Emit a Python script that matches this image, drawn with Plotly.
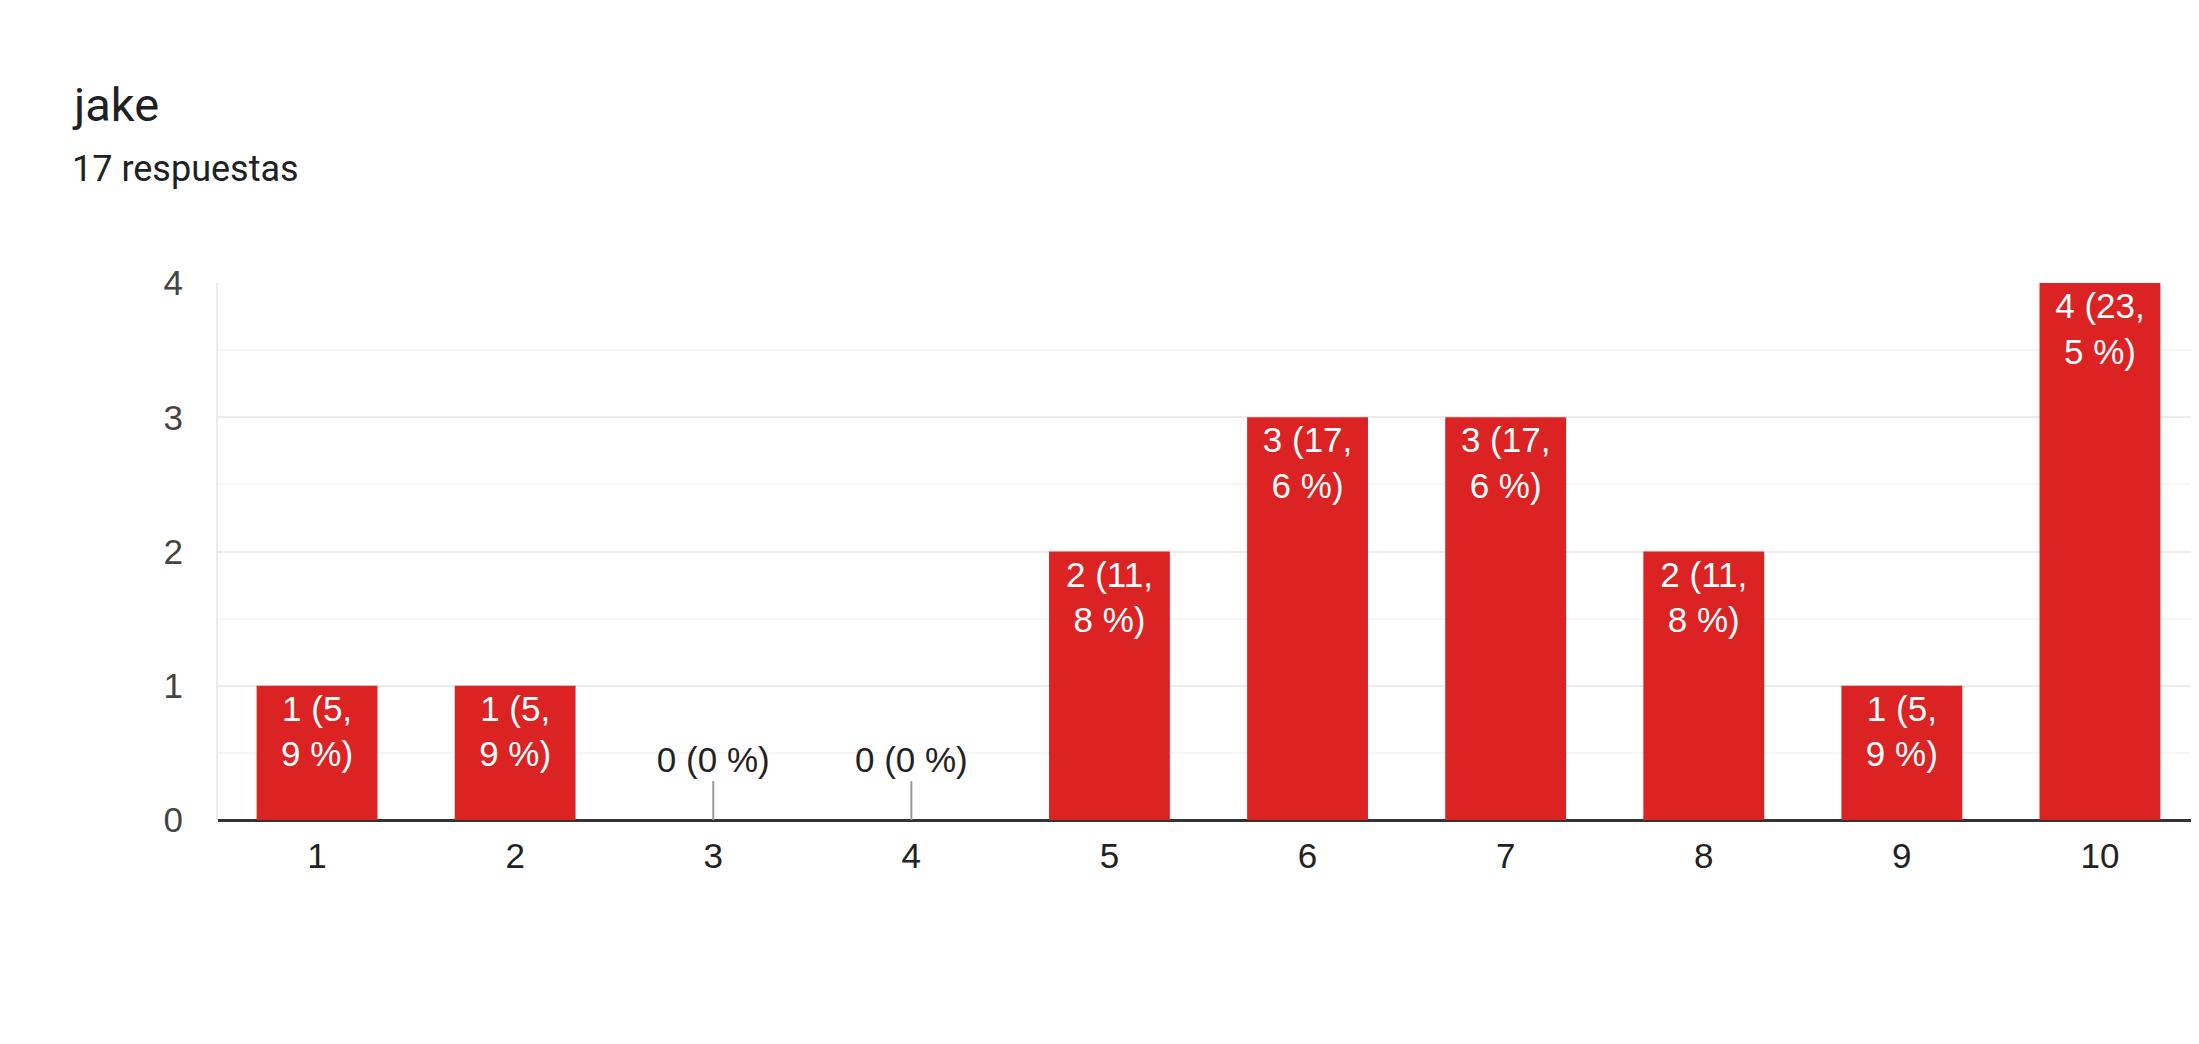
import plotly.graph_objects as go

# survey answers (scale 1-10) and how many picked each
categories = [1, 2, 3, 4, 5, 6, 7, 8, 9, 10]
counts = [1, 1, 0, 0, 2, 3, 3, 2, 1, 4]
total = 17
y_ticks = [0, 1, 2, 3, 4]

title = "jake"
subtitle = f"{total} respuestas"

red = "#db2323"
stem_h = 0.29
fs = 35


def label(v, wrap):
    pct = round(v / total * 100, 1)
    pct_s = f"{pct:g}".replace(".", ",")
    if wrap and "," in pct_s:
        a, b = pct_s.split(",")
        return f"{v} ({a},<br>{b} %)"
    return f"{v} ({pct_s} %)"


bar_text = [label(v, True) if v > 0 else "" for v in counts]
zero_x = [c for c, v in zip(categories, counts) if v == 0]
zero_text = [label(0, False) for _ in zero_x]

fig = go.Figure()
fig.add_trace(go.Bar(
    x=categories, y=counts,
    marker=dict(color=red, line=dict(width=0)),
    text=bar_text, textposition="inside", insidetextanchor="end",
    constraintext="none",
    insidetextfont=dict(color="white", size=fs, family="Liberation Sans, Arial"),
    width=0.61, hoverinfo="skip",
))

# little stems + labels for the empty answers
stem_x, stem_y = [], []
for c in zero_x:
    stem_x += [c, c, None]
    stem_y += [0, stem_h, None]
fig.add_trace(go.Scatter(x=stem_x, y=stem_y, mode="lines",
                         line=dict(color="#999999", width=2), hoverinfo="skip"))
fig.add_trace(go.Scatter(x=zero_x, y=[stem_h] * len(zero_x), mode="text",
                         text=zero_text, textposition="top center",
                         textfont=dict(color="#222222", size=fs, family="Liberation Sans, Arial"),
                         hoverinfo="skip"))

fig.add_annotation(text=title, xref="paper", yref="paper", x=-0.0747, y=1.0 + 149 / 537,
                   xanchor="left", yanchor="bottom", showarrow=False,
                   font=dict(size=47, color="#202124", family="Roboto"))
fig.add_annotation(text=subtitle, xref="paper", yref="paper", x=-0.0747, y=1.0 + 91 / 537,
                   xanchor="left", yanchor="bottom", showarrow=False,
                   font=dict(size=36, color="#202124", family="Roboto"))

fig.update_layout(
    width=2199, height=1044,
    margin=dict(l=210, r=8, t=275, b=232),
    paper_bgcolor="white", plot_bgcolor="white",
    showlegend=False,
    font=dict(family="Liberation Sans, Arial", size=fs, color="#333333"),
)
fig.update_xaxes(range=[0.5, 10.5], tickvals=categories, ticktext=[str(c) for c in categories],
                 showgrid=False, zeroline=False, showline=False, ticks="",
                 ticklabelstandoff=12,
                 tickfont=dict(size=fs, color="#222222"))
fig.update_yaxes(range=[0, 4], tickvals=y_ticks, showgrid=True, gridcolor="#ebebeb", gridwidth=2,
                 minor=dict(dtick=0.5, showgrid=True, gridcolor="#f5f5f5", gridwidth=2),
                 zeroline=True, zerolinecolor="#333333", zerolinewidth=3,
                 showline=True, linecolor="#ebebeb", linewidth=2, mirror=False,
                 ticks="", ticklabelstandoff=26, tickfont=dict(size=fs, color="#444444"))

fig.write_html("out.html")
